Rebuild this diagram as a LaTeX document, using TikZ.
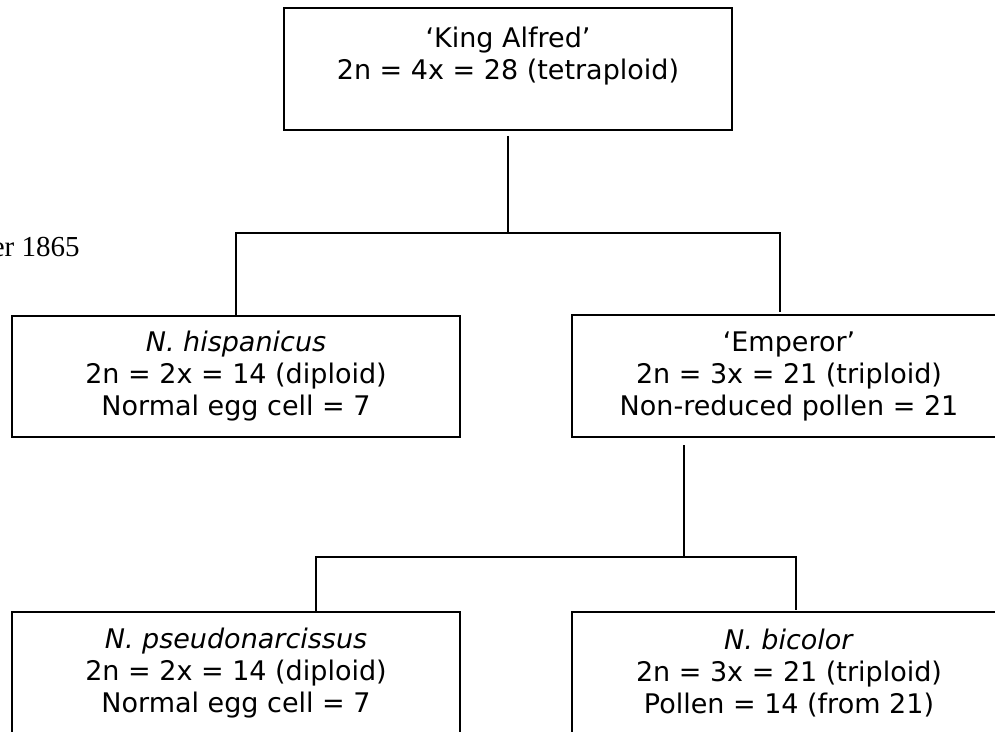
\documentclass[tikz,border=0pt]{standalone}
\usepackage{fontspec}
\setmainfont{DejaVu Sans}
\newfontfamily\notefont{Liberation Serif}
\begin{document}
\begin{tikzpicture}[x=0.5pt,y=-0.5pt,
  box/.style={draw, line width=1pt, rectangle, inner sep=0pt, align=center,
    font=\fontsize{13.5}{16}\selectfont},
  conn/.style={draw, line width=1pt}]
\useasboundingbox (0,0) rectangle (995,732);
\clip (0,0) rectangle (995,732);

% cultivar and species boxes
\node[box, minimum width=224pt, minimum height=61pt] (ka) at (508,69)
  {‘King Alfred’\\2n = 4x = 28 (tetraploid)\\\mbox{}};
\node[box, minimum width=224pt, minimum height=60.5pt] (hisp) at (236,376.5)
  {\textit{N. hispanicus}\\2n = 2x = 14 (diploid)\\Normal egg cell = 7};
\node[box, minimum width=217pt, minimum height=61pt] (emp) at (789,376)
  {‘Emperor’\\2n = 3x = 21 (triploid)\\Non-reduced pollen = 21};
\node[box, minimum width=224pt, minimum height=61pt] (pseudo) at (236,673)
  {\textit{N. pseudonarcissus}\\2n = 2x = 14 (diploid)\\Normal egg cell = 7};
\node[box, minimum width=217pt, minimum height=61pt] (bic) at (789,673)
  {\textit{N. bicolor}\\2n = 3x = 21 (triploid)\\Pollen = 14 (from 21)};

% side note
\node[font=\notefont\fontsize{14.5}{16}\selectfont, anchor=base east, inner sep=0pt]
  (note) at (80,257) {er 1865};

% junction points of the tree
\coordinate (j0) at (508,233);
\coordinate (jL) at (236,233);
\coordinate (jR) at (780,233);
\coordinate (eTop) at (780,315);
\coordinate (eBot) at (684,437);
\coordinate (k0) at (684,557);
\coordinate (kL) at (316,557);
\coordinate (kR) at (796,557);
\coordinate (pTop) at (316,612);
\coordinate (bTop) at (796,612);

% connectors
\draw[conn, shorten <=2.5pt] (ka.south) -- (j0);
\draw[conn, shorten >=1.5pt] (hisp.north) -- (jL) -- (jR) -- (eTop);
\draw[conn, shorten <=4pt] (eBot) -- (k0);
\draw[conn, shorten >=1pt] (pTop) -- (kL) -- (kR) -- (bTop);
\end{tikzpicture}
\end{document}
